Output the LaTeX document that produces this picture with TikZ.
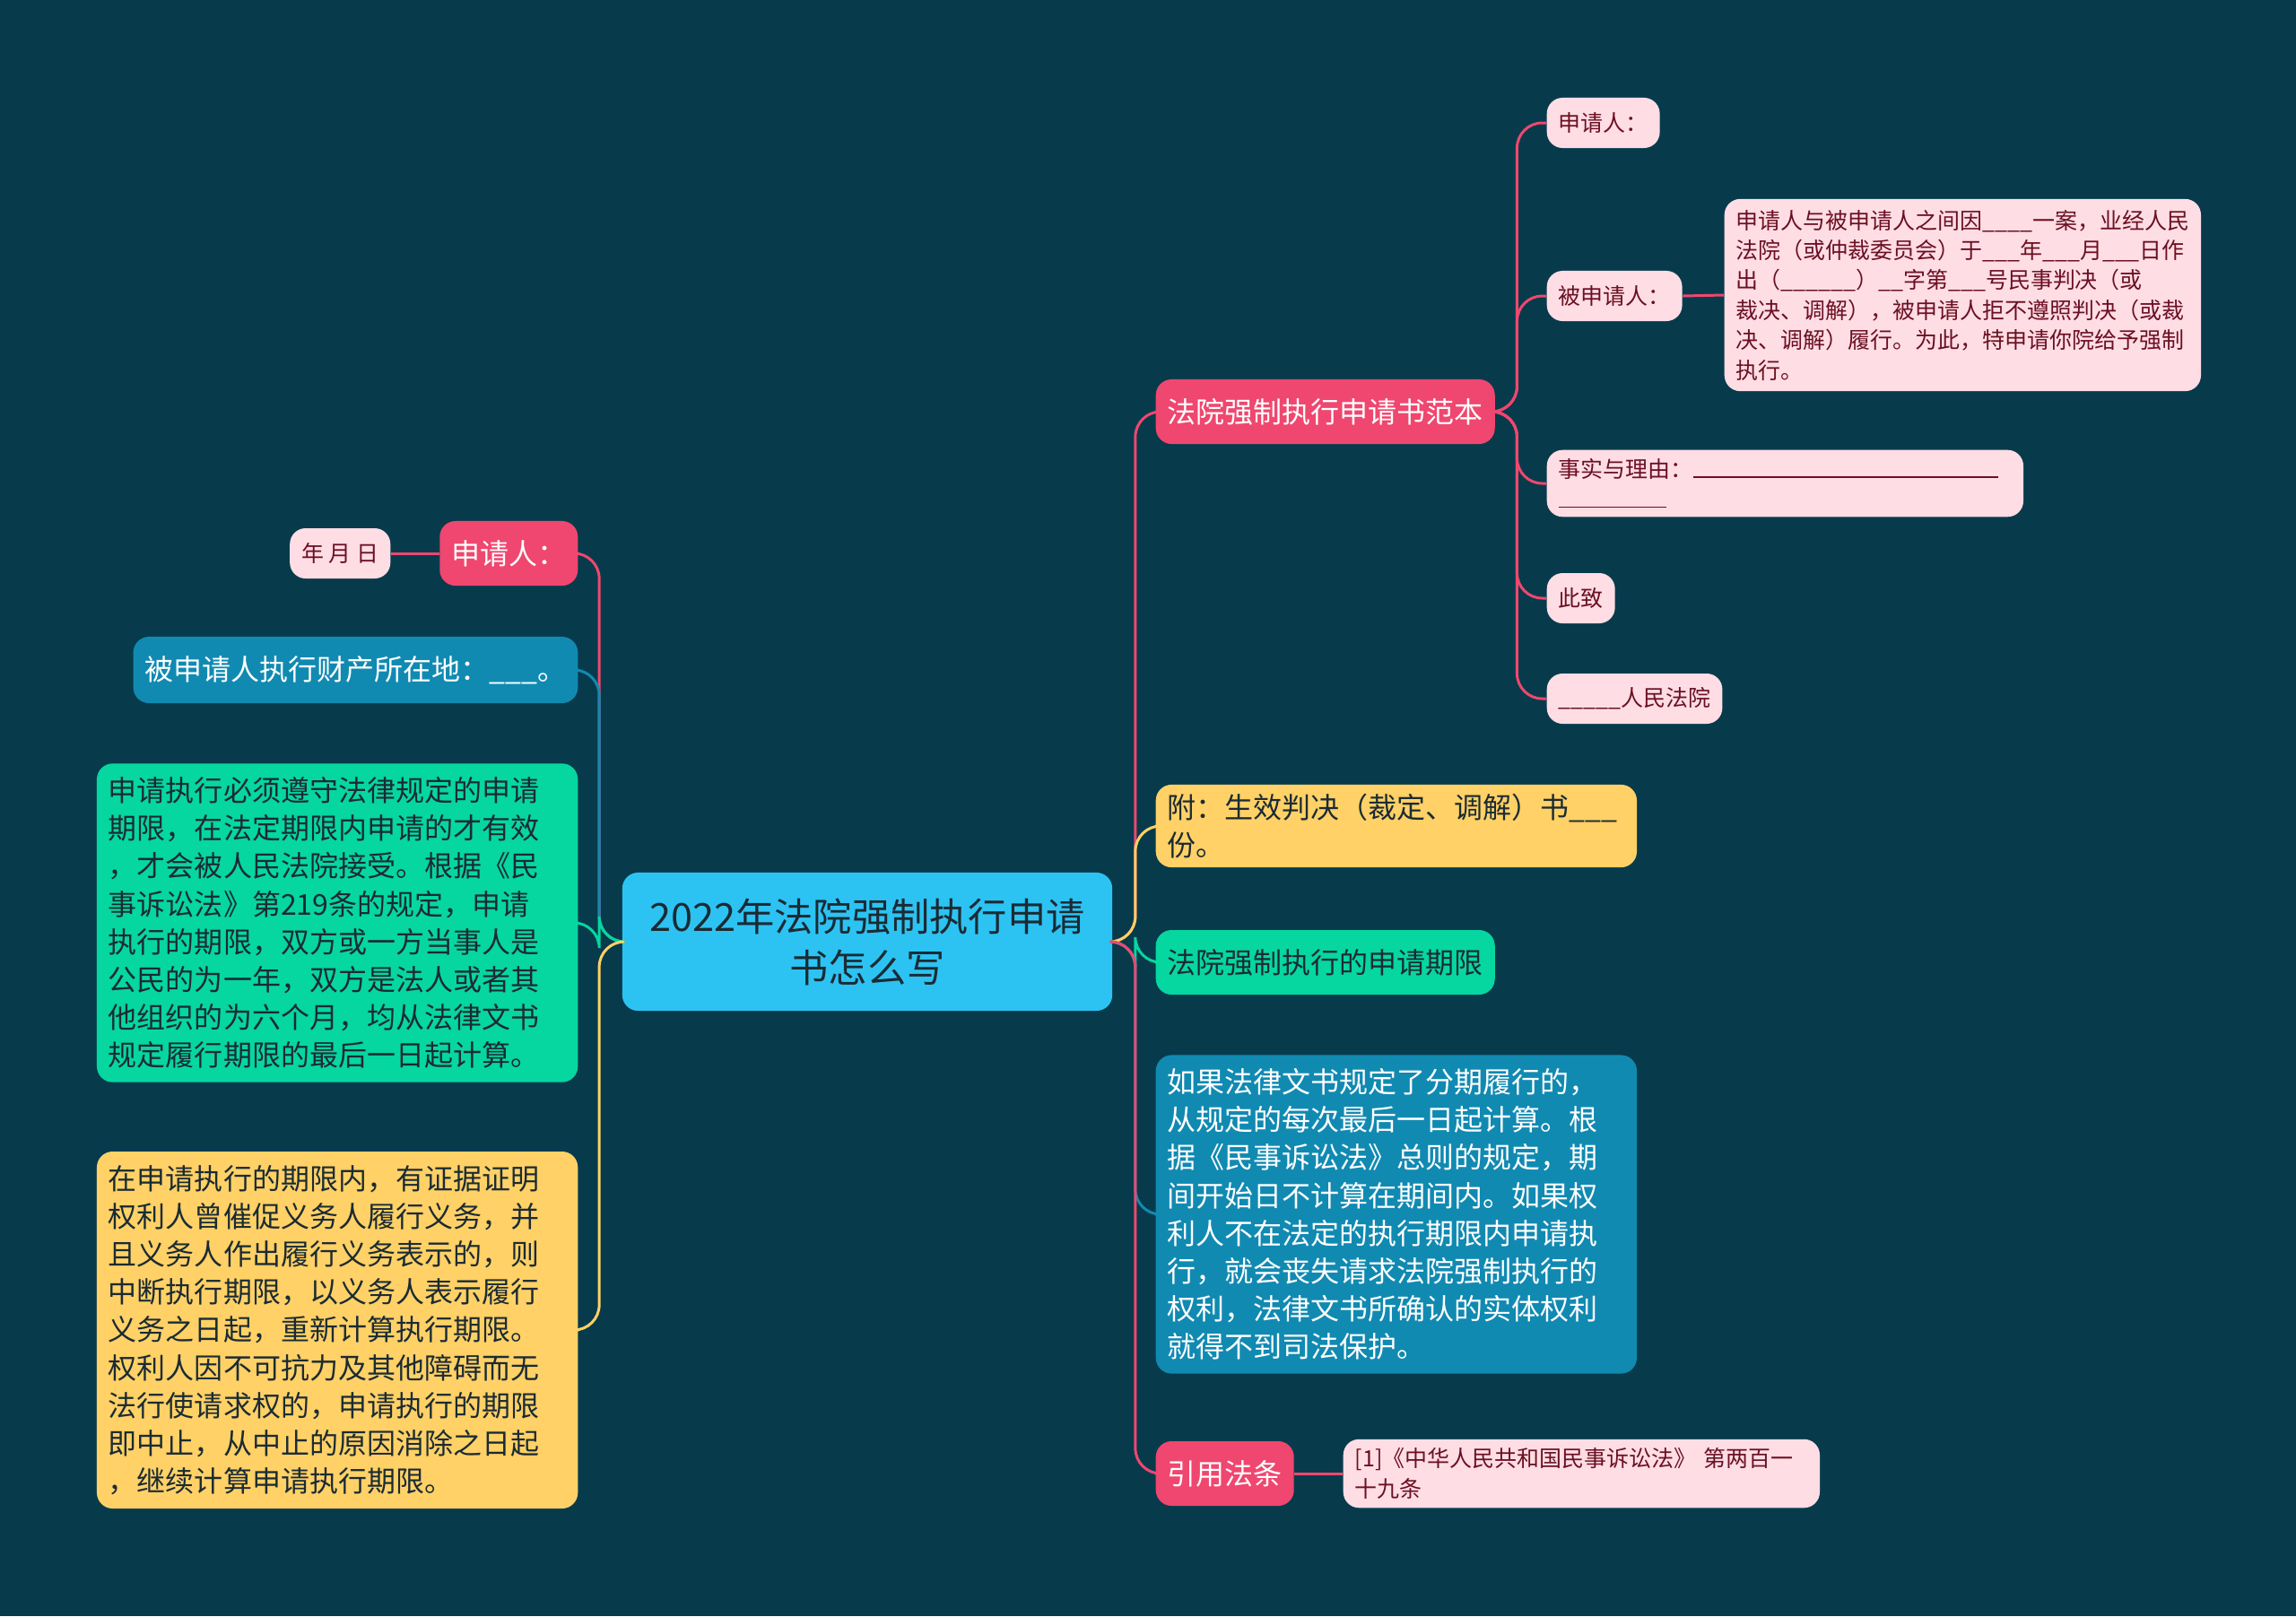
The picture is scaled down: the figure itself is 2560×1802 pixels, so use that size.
\documentclass[tikz,border=0pt]{standalone}
\usepackage{fontspec}
\setmainfont{Noto Sans CJK SC}
\XeTeXlinebreaklocale "zh"
\XeTeXlinebreakskip = 0pt plus 1pt
\usetikzlibrary{positioning}
\definecolor{bgc}{HTML}{073B4C}
\definecolor{redc}{HTML}{EF476F}
\definecolor{pinkc}{HTML}{FFDDE4}
\definecolor{yelc}{HTML}{FFD166}
\definecolor{grnc}{HTML}{06D6A0}
\definecolor{bluc}{HTML}{118AB2}
\definecolor{cyac}{HTML}{2CC3F3}
\definecolor{darkred}{HTML}{6B1022}
\definecolor{darkt}{HTML}{1B2B33}
\tikzset{
  box/.style={rounded corners=5pt, inner xsep=0.13cm, inner ysep=0.1cm, align=left},
  redbox/.style={box, fill=redc, text=white, minimum height=0.72cm, font=\fontsize{9.1}{12}\selectfont},
  pinkbox/.style={box, fill=pinkc, text=darkred, minimum height=0.56cm, font=\fontsize{7.1}{9.5}\selectfont},
  yelbox/.style={box, fill=yelc, text=darkt, font=\fontsize{9.1}{12}\selectfont},
  grnbox/.style={box, fill=grnc, text=darkt, minimum height=0.72cm, font=\fontsize{9.1}{12}\selectfont},
  blubox/.style={box, fill=bluc, text=white, minimum height=0.74cm, font=\fontsize{9.1}{12}\selectfont},
  link/.style={line width=0.85pt, rounded corners=8pt}
}
\begin{document}
\begin{tikzpicture}[x=0.01cm, y=-0.01cm]
	%%%%%% fondo %%%%%%
	\fill[bgc] (0,0) rectangle (2560,1802);
	\useasboundingbox (0,0) rectangle (2560,1802);
	
	%%%%%% centro %%%%%%
	\node[box, fill=cyac, text=darkt, align=center, minimum width=5.46cm, minimum height=1.54cm,
	  font=\fontsize{12.3}{16.2}\selectfont] (root) at (967,1050) {2022年法院强制执行申请\\书怎么写};
	
	%%%%%% derecha %%%%%%
	\node[redbox, anchor=west] (fanben) at (1288,459) {法院强制执行申请书范本};
	\node[pinkbox, anchor=west] (sqr) at (1724,137) {申请人：};
	\node[pinkbox, anchor=west] (bsqr) at (1724,330) {被申请人：};
	\node[pinkbox, anchor=west, text width=5.05cm, inner ysep=0.12cm] (yin) at (1922,329)
	  {申请人与被申请人之间因\_\_\_\_一案，业经人民\\法院（或仲裁委员会）于\_\_\_年\_\_\_月\_\_\_日作\\出（\_\_\_\_\_\_）\_\_字第\_\_\_号民事判决（或\\裁决、调解），被申请人拒不遵照判决（或裁\\决、调解）履行。为此，特申请你院给予强制\\执行。};
	\node[pinkbox, anchor=west, text width=5.05cm] (liyou) at (1724,539)
	  {事实与理由：\rule{3.4cm}{0.4pt}\\\rule{1.2cm}{0.4pt}};
	\node[pinkbox, anchor=west] (cizhi) at (1724,667) {此致};
	\node[pinkbox, anchor=west] (fayuan) at (1724,779) {\_\_\_\_\_人民法院};
	\node[yelbox, anchor=west, text width=5.1cm] (fu) at (1288,921) {附：生效判决（裁定、调解）书\_\_\_\\份。};
	\node[grnbox, anchor=west] (qixian) at (1288,1073) {法院强制执行的申请期限};
	\node[blubox, anchor=west, text width=5.1cm, inner ysep=0.15cm] (ruguo) at (1288,1354)
	  {如果法律文书规定了分期履行的，\\从规定的每次最后一日起计算。根\\据《民事诉讼法》总则的规定，期\\间开始日不计算在期间内。如果权\\利人不在法定的执行期限内申请执\\行，就会丧失请求法院强制执行的\\权利，法律文书所确认的实体权利\\就得不到司法保护。};
	\node[redbox, anchor=west] (yinyong) at (1288,1643) {引用法条};
	\node[pinkbox, anchor=west, text width=5.05cm] (ref) at (1497,1643) {[1]《中华人民共和国民事诉讼法》~第两百一\\十九条};
	
	%%%%%% izquierda %%%%%%
	\node[redbox, anchor=east] (lsqr) at (645,617) {申请人：};
	\node[pinkbox, anchor=east] (nyr) at (436,617) {年 月 日};
	\node[blubox, anchor=east] (caichan) at (645,747) {被申请人执行财产所在地：\_\_\_。};
	\node[grnbox, anchor=east, text width=5.1cm, inner ysep=0.15cm] (bixu) at (645,1029)
	  {申请执行必须遵守法律规定的申请\\期限，在法定期限内申请的才有效\\，才会被人民法院接受。根据《民\\事诉讼法》第219条的规定，申请\\执行的期限，双方或一方当事人是\\公民的为一年，双方是法人或者其\\他组织的为六个月，均从法律文书\\规定履行期限的最后一日起计算。};
	\node[yelbox, anchor=east, text width=5.1cm, inner ysep=0.15cm] (zhongduan) at (645,1483)
	  {在申请执行的期限内，有证据证明\\权利人曾催促义务人履行义务，并\\且义务人作出履行义务表示的，则\\中断执行期限，以义务人表示履行\\义务之日起，重新计算执行期限。\\权利人因不可抗力及其他障碍而无\\法行使请求权的，申请执行的期限\\即中止，从中止的原因消除之日起\\，继续计算申请执行期限。};
	
	%%%%%% enlaces %%%%%%
	\draw[link, redc] (root.east) -- ++(25,0) |- (fanben.west);
	\draw[link, yelc] (root.east) -- ++(25,0) |- (fu.west);
	\draw[link, grnc] (root.east) -- ++(25,0) |- (qixian.west);
	\draw[link, bluc] (root.east) -- ++(25,0) |- (ruguo.west);
	\draw[link, redc] (root.east) -- ++(25,0) |- (yinyong.west);
	\foreach \c in {sqr,bsqr,liyou,cizhi,fayuan}
	  \draw[link, redc] (fanben.east) -- ++(24,0) |- (\c.west);
	\draw[link, redc] (bsqr.east) -- (yin.west);
	\draw[link, redc] (yinyong.east) -- (ref.west);
	\draw[link, redc] (root.west) -- ++(-25,0) |- (lsqr.east);
	\draw[link, bluc] (root.west) -- ++(-25,0) |- (caichan.east);
	\draw[link, grnc] (root.west) -- ++(-25,0) |- (bixu.east);
	\draw[link, yelc] (root.west) -- ++(-25,0) |- (zhongduan.east);
	\draw[link, redc] (lsqr.west) -- (nyr.east);
\end{tikzpicture}
\end{document}
